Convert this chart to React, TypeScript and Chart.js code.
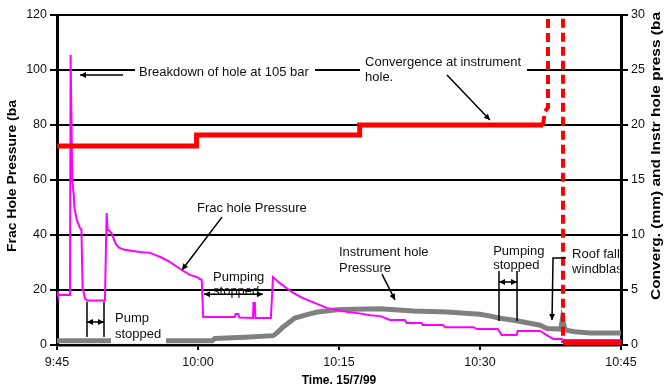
import React, { useEffect, useRef } from 'react';
import { Chart, registerables } from 'chart.js';

Chart.register(...registerables);

const FONT = "'Liberation Sans', Arial, Helvetica, sans-serif";

// ---- texts ----
const timeTickLabels = ['9:45', '10:00', '10:15', '10:30', '10:45'];
const xAxisTitle = 'Time. 15/7/99';
const leftAxisTitle = 'Frac Hole Pressure (ba';
const rightAxisTitle = 'Converg. (mm) and Instr hole press (ba';

// ---- data (time in minutes after 9:45) ----
// Frac hole pressure (bar, left axis)
const fracTimes = [
  0, 0.1, 0.3, 1.38, 1.45, 1.62, 1.8, 1.85, 2.1, 2.45, 2.6, 2.72, 2.97, 3.2, 5.1,
  5.28, 5.39, 5.6, 5.8, 6.05, 6.3, 6.6, 7.2, 8.8, 9.9, 10.5, 11.0, 12.0, 13.4, 14.15,
  14.9, 15.4, 15.55, 18.9, 19.0, 19.3, 19.4, 20.85, 20.9, 21.05, 21.1, 22.75, 22.98,
  23.7, 25.1, 26.0, 27.2, 28.7, 30.9, 32.2, 33.3, 34.4, 35.43, 37.0, 37.2, 38.8, 38.9,
  41.06, 41.3, 44.3, 44.7, 46.9, 47.3, 48.9, 49.0, 51.4, 52.1, 52.8, 53.7, 53.8, 60,
];
const fracValues = [
  19.5, 18.2, 18.2, 18.2, 105.5, 60, 54, 50, 45.5, 42.5, 42, 21, 17, 16.2, 16.2,
  48, 42, 41.5, 40.6, 38.5, 36.5, 35.4, 34.6, 33.8, 33.5, 32.7, 32, 30.2, 27, 25.5,
  24.7, 23.6, 10.2, 10.2, 11.3, 11.3, 10.0, 9.8, 15.3, 15.3, 9.8, 9.8, 24.7,
  22.5, 19, 17.3, 15.6, 13.5, 12, 11.5, 10.8, 10.5, 9.1, 9.1, 8.0, 8.0, 7.3,
  7.3, 6.5, 6.5, 5.8, 5.8, 3.6, 3.6, 5.1, 5.1, 3.6, 2.2, 2.2, 1.8, 1.8,
];

// Instrument hole pressure (bar, right axis)
const instrTimes = [
  0, 16.5, 16.8, 20, 23.0, 23.4, 24.0, 25.3, 26.3, 27.7, 29.8, 31.5, 34.4, 37.9,
  41.5, 45.0, 46.0, 47.0, 48.9, 51.4, 52.1, 53.6, 53.75, 54.1, 55.1, 56.7, 60,
];
const instrValues = [
  0.38, 0.38, 0.6, 0.7, 0.85, 1.1, 1.6, 2.45, 2.7, 3.0, 3.2, 3.25, 3.3, 3.1,
  3.0, 2.8, 2.65, 2.45, 2.2, 1.8, 1.5, 1.45, 2.3, 1.35, 1.2, 1.1, 1.1,
];

// Convergence at instrument hole (mm, right axis)
const convTimes = [0, 14.85, 14.85, 32.2, 32.2, 51.7, 51.9, 52.23, 52.23, 53.83, 53.83, 60];
const convValues = [18.1, 18.1, 19.1, 19.1, 20.0, 20.0, 21.2, 21.6, 33, 33, 0.2, 0.2];
const convDashFrom = 51.7;
const convDashTo = 53.83;

// ---- annotations (t = minutes, v = left-axis bar) ----
const noteTexts = [
  { text: 'Breakdown of hole at 105 bar', t: 8.72, v: 99.3 },
  { text: 'Convergence at instrument', t: 32.77, v: 102.9 },
  { text: 'hole.', t: 32.77, v: 97.4 },
  { text: 'Frac hole Pressure', t: 14.89, v: 49.8 },
  { text: 'Pumping', t: 16.6, v: 24.7 },
  { text: 'stopped', t: 16.6, v: 19.5 },
  { text: 'Pump', t: 6.17, v: 9.8 },
  { text: 'stopped', t: 6.17, v: 4.0 },
  { text: 'Instrument hole', t: 30.0, v: 33.5 },
  { text: 'Pressure', t: 30.0, v: 28.0 },
  { text: 'Pumping', t: 46.4, v: 34.2 },
  { text: 'stopped', t: 46.4, v: 28.8 },
  { text: 'Roof fall', t: 54.8, v: 33.1 },
  { text: 'windblast', t: 54.8, v: 27.6 },
];
const noteBoxes = [
  { t1: 5.74, v1: 13.45, t2: 11.6, v2: 0.4 },
  { t1: 8.3, v1: 102.9, t2: 27.45, v2: 96.0 },
  { t1: 32.23, v1: 105.8, t2: 50.0, v2: 94.5 },
];
const noteLines = [
  { pts: [[7.02, 98.2], [2.45, 98.2]], head: 'end' },
  { pts: [[41.49, 98.2], [46.06, 81.8]], head: 'end' },
  { pts: [[17.55, 46.5], [13.3, 27.3]], head: 'end' },
  { pts: [[15.64, 18.5], [21.91, 18.5]], head: 'both' },
  { pts: [[3.19, 15.6], [3.19, 2.9]], head: 'none' },
  { pts: [[5.0, 15.6], [5.0, 2.9]], head: 'none' },
  { pts: [[3.19, 8.4], [5.0, 8.4]], head: 'both' },
  { pts: [[34.57, 25.8], [35.96, 16.4]], head: 'end' },
  { pts: [[47.02, 26.9], [47.02, 8.7]], head: 'none' },
  { pts: [[48.94, 26.9], [48.94, 8.7]], head: 'none' },
  { pts: [[47.02, 22.9], [48.94, 22.9]], head: 'both' },
  { pts: [[54.15, 31.6], [52.77, 31.6], [52.66, 9.1]], head: 'end' },
];

const zip = (ts: number[], vs: number[]) => ts.map((t, i) => ({ x: t, y: vs[i] }));

function drawHead(ctx: CanvasRenderingContext2D, x0: number, y0: number, x1: number, y1: number) {
  const a = Math.atan2(y1 - y0, x1 - x0);
  const L = 6, W = 3;
  const c = Math.cos(a), s = Math.sin(a);
  ctx.beginPath();
  ctx.moveTo(x1, y1);
  ctx.lineTo(x1 - L * c + W * s, y1 - L * s - W * c);
  ctx.lineTo(x1 - L * c - W * s, y1 - L * s + W * c);
  ctx.closePath();
  ctx.fill();
}

const notesPlugin = {
  id: 'notes',
  afterDatasetsDraw(chart: any) {
    const { ctx, chartArea: a, scales } = chart;
    const X = (t: number) => scales.x.getPixelForValue(t);
    const Y = (v: number) => scales.y.getPixelForValue(v);
    ctx.save();
    ctx.beginPath();
    ctx.rect(a.left + 1.5, a.top, a.right - a.left - 3, a.bottom - a.top - 1.2);
    ctx.clip();
    ctx.fillStyle = '#ffffff';
    noteBoxes.forEach((b) => {
      const x1 = X(b.t1), x2 = X(b.t2), y1 = Y(b.v1), y2 = Y(b.v2);
      ctx.fillRect(x1, y1, x2 - x1, y2 - y1);
    });
    ctx.fillStyle = '#111';
    ctx.font = `13px ${FONT}`;
    ctx.textAlign = 'left';
    ctx.textBaseline = 'middle';
    noteTexts.forEach((n) => ctx.fillText(n.text, X(n.t), Y(n.v)));
    ctx.strokeStyle = '#000';
    ctx.fillStyle = '#000';
    ctx.lineWidth = 1.5;
    noteLines.forEach((l) => {
      const p = l.pts.map(([t, v]) => [X(t), Y(v)]);
      ctx.beginPath();
      ctx.moveTo(p[0][0], p[0][1]);
      for (let i = 1; i < p.length; i++) ctx.lineTo(p[i][0], p[i][1]);
      ctx.stroke();
      const n = p.length;
      if (l.head === 'end' || l.head === 'both') drawHead(ctx, p[n - 2][0], p[n - 2][1], p[n - 1][0], p[n - 1][1]);
      if (l.head === 'both') drawHead(ctx, p[1][0], p[1][1], p[0][0], p[0][1]);
    });
    ctx.restore();
  },
  afterDraw(chart: any) {
    const { ctx, chartArea: a } = chart;
    ctx.save();
    ctx.fillStyle = '#000';
    ctx.font = `bold 12px ${FONT}`;
    ctx.textAlign = 'center';
    ctx.textBaseline = 'middle';
    ctx.fillText(xAxisTitle, (a.left + a.right) / 2, a.bottom + 36);

    const drawVTitle = (text: string, x: number, yStart: number, len: number, size: number) => {
      ctx.save();
      ctx.font = `bold ${size}px ${FONT}`;
      const w = ctx.measureText(text).width;
      ctx.translate(x, yStart);
      ctx.rotate(-Math.PI / 2);
      ctx.scale(len / w, 1);
      ctx.textAlign = 'left';
      ctx.textBaseline = 'middle';
      ctx.fillText(text, 0, 0);
      ctx.restore();
    };
    drawVTitle(leftAxisTitle, 13, 252, 152, 12.5);
    drawVTitle(rightAxisTitle, 656, 300, 288, 13);
    ctx.restore();
  },
};

const isDashed = (c: any) => c.p0.parsed.x >= convDashFrom && c.p1.parsed.x <= convDashTo;

export default function App() {
  const ref = useRef<HTMLCanvasElement | null>(null);
  useEffect(() => {
    if (!ref.current) return;
    const tickFont = { family: FONT, size: 12.5 };
    const tickMinutes = timeTickLabels.map((_, i) => i * 15);
    const chart = new Chart(ref.current, {
      type: 'line',
      data: {
        datasets: [
          {
            label: 'Convergence at instrument hole',
            data: zip(convTimes, convValues),
            yAxisID: 'y1',
            borderColor: '#ff0000',
            borderWidth: 5,
            borderCapStyle: 'butt',
            borderDash: [9, 5],
            segment: {
              borderDash: (c: any) => (isDashed(c) ? [9, 5] : []),
              borderWidth: (c: any) => (isDashed(c) ? 4 : 5),
            },
          },
          {
            label: 'Frac hole Pressure',
            data: zip(fracTimes, fracValues),
            yAxisID: 'y',
            borderColor: '#ff00ff',
            borderWidth: 2,
          },
          {
            label: 'Instrument hole Pressure',
            data: zip(instrTimes, instrValues),
            yAxisID: 'y1',
            borderColor: '#808080',
            borderWidth: 5,
          },
        ],
      } as any,
      options: {
        responsive: false,
        maintainAspectRatio: false,
        animation: false,
        layout: { padding: { top: 15, left: 0, right: 0, bottom: 0 } },
        plugins: { legend: { display: false }, tooltip: { enabled: false } },
        elements: { point: { radius: 0 }, line: { tension: 0 } },
        scales: {
          x: {
            type: 'linear',
            min: 0,
            max: 60,
            afterBuildTicks: (s: any) => {
              s.ticks = tickMinutes.map((v) => ({ value: v }));
            },
            afterFit: (s: any) => {
              s.height = 44;
            },
            ticks: {
              callback: (v: any) => timeTickLabels[Math.round(Number(v) / 15)],
              font: tickFont,
              color: '#111',
              padding: 5,
              maxRotation: 0,
              autoSkip: false,
            },
            grid: { drawOnChartArea: false, color: '#000', lineWidth: 2, tickLength: 5 },
            border: { color: '#000', width: 2.5 },
          },
          y: {
            position: 'left',
            min: 0,
            max: 120,
            afterFit: (s: any) => {
              s.width = 57;
            },
            ticks: { stepSize: 20, font: tickFont, color: '#111', padding: 3 },
            grid: { color: '#000', lineWidth: 2, tickLength: 7 },
            border: { color: '#000', width: 3 },
          },
          y1: {
            position: 'right',
            min: 0,
            max: 30,
            afterFit: (s: any) => {
              s.width = 47;
            },
            ticks: { stepSize: 5, font: tickFont, color: '#111', padding: 3 },
            grid: { drawOnChartArea: false, color: '#000', lineWidth: 2, tickLength: 7 },
            border: { color: '#000', width: 3 },
          },
        },
      } as any,
      plugins: [notesPlugin],
    });
    return () => chart.destroy();
  }, []);
  return (
    <div style={{ position: 'absolute', left: 0, top: 0, width: 668, height: 389, background: '#fff' }}>
      <canvas ref={ref} width={668} height={389} style={{ display: 'block' }} />
    </div>
  );
}
